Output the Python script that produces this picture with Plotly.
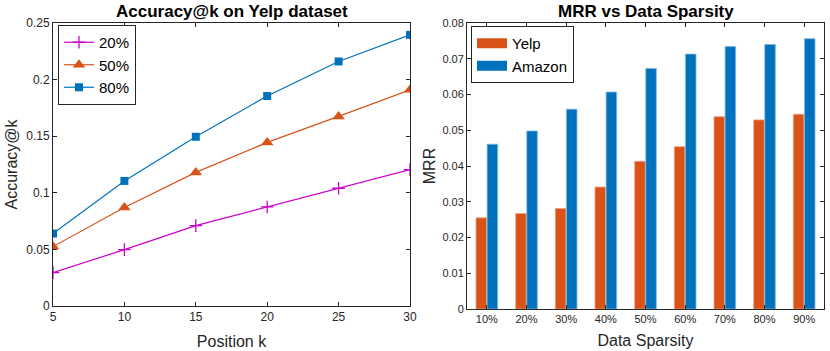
import plotly.graph_objects as go

# Left chart data
positions = [5, 10, 15, 20, 25, 30]
acc_20 = [0.0295, 0.0498, 0.071, 0.0875, 0.104, 0.1205]
acc_50 = [0.0525, 0.087, 0.118, 0.1445, 0.1675, 0.191]
acc_80 = [0.064, 0.1105, 0.1495, 0.1855, 0.216, 0.2395]

# Right chart data
sparsity = ["10%", "20%", "30%", "40%", "50%", "60%", "70%", "80%", "90%"]
mrr_yelp = [0.0255, 0.0267, 0.0281, 0.0341, 0.0413, 0.0454, 0.0538, 0.0529, 0.0545]
mrr_amazon = [0.0461, 0.0498, 0.0559, 0.0607, 0.0673, 0.0713, 0.0734, 0.0740, 0.0756]

BLUE = "#0072BD"
ORANGE = "#D95319"
MAGENTA = "#CC00CC"
AX = "#262626"
FONT = "Liberation Sans, Arial, Helvetica, sans-serif"

W, H = 830, 351

fig = go.Figure()

fig.add_trace(go.Scatter(x=positions, y=acc_20, name="20%", mode="lines+markers",
                         line=dict(color=MAGENTA, width=1.2),
                         marker=dict(symbol="cross-thin", size=9, line=dict(color=MAGENTA, width=1.3)),
                         xaxis="x", yaxis="y", legend="legend"))
fig.add_trace(go.Scatter(x=positions, y=acc_50, name="50%", mode="lines+markers",
                         line=dict(color=ORANGE, width=1.2),
                         marker=dict(symbol="triangle-up", size=11, color=ORANGE),
                         xaxis="x", yaxis="y", legend="legend"))
fig.add_trace(go.Scatter(x=positions, y=acc_80, name="80%", mode="lines+markers",
                         line=dict(color=BLUE, width=1.2),
                         marker=dict(symbol="square", size=8, color=BLUE),
                         xaxis="x", yaxis="y", legend="legend"))

fig.add_trace(go.Bar(x=sparsity, y=mrr_yelp, name="Yelp", showlegend=False,
                     marker=dict(color=ORANGE, line=dict(color="#F0A080", width=0.8)),
                     xaxis="x2", yaxis="y2"))
fig.add_trace(go.Bar(x=sparsity, y=mrr_amazon, name="Amazon", showlegend=False,
                     marker=dict(color=BLUE, line=dict(color="#80B8E0", width=0.8)),
                     xaxis="x2", yaxis="y2"))
# legend swatches for the bar series (wide rectangles like the original)
for nm, col in [("Yelp", ORANGE), ("Amazon", BLUE)]:
    fig.add_trace(go.Scatter(x=[None], y=[None], name=nm, mode="lines",
                             line=dict(color=col, width=16),
                             xaxis="x2", yaxis="y2", legend="legend2"))

def axis_common(size):
    return dict(showline=True, linecolor=AX, linewidth=1, mirror="ticks", automargin=False,
                ticks="inside", ticklen=4, tickcolor=AX, showgrid=False, zeroline=False,
                tickfont=dict(family=FONT, size=size, color=AX))

lx = [53 / W, 410 / W]
rx = [467 / W, 824 / W]
ly = [1 - 306 / H, 1 - 23 / H]
ry = [1 - 309 / H, 1 - 23 / H]

fig.update_layout(
    template="none",
    width=W, height=H,
    margin=dict(l=0, r=0, t=0, b=0, autoexpand=False),
    paper_bgcolor="white", plot_bgcolor="white",
    font=dict(family=FONT, color=AX),
    barmode="group", bargap=0.44, bargroupgap=0.05,
    showlegend=True,
    xaxis=dict(domain=lx, range=[5, 30], tickvals=positions, ticktext=[str(p) for p in positions],
               anchor="y", title=dict(text="Position k", font=dict(size=16, color=AX), standoff=12),
               **axis_common(12)),
    yaxis=dict(domain=ly, range=[0, 0.25], tickvals=[0, 0.05, 0.1, 0.15, 0.2, 0.25],
               ticktext=["0", "0.05", "0.1", "0.15", "0.2", "0.25"], anchor="x",
               title=dict(text="Accuracy@k", font=dict(size=16, color=AX), standoff=4),
               **axis_common(12)),
    xaxis2=dict(domain=rx, range=[-0.5, 8.5], anchor="y2", type="category",
                title=dict(text="Data Sparsity", font=dict(size=16, color=AX), standoff=10),
                **axis_common(11)),
    yaxis2=dict(domain=ry, range=[0, 0.08], anchor="x2",
                tickvals=[0, 0.01, 0.02, 0.03, 0.04, 0.05, 0.06, 0.07, 0.08],
                ticktext=["0", "0.01", "0.02", "0.03", "0.04", "0.05", "0.06", "0.07", "0.08"],
                title=dict(text="MRR", font=dict(size=16, color=AX), standoff=2),
                **axis_common(11)),
    legend=dict(x=58 / W, y=1 - 25 / H, xanchor="left", yanchor="top",
                bordercolor=AX, borderwidth=1, bgcolor="white",
                font=dict(family=FONT, size=15, color="black"),
                tracegroupgap=0, itemwidth=30),
    legend2=dict(x=471 / W, y=1 - 26 / H, xanchor="left", yanchor="top",
                 bordercolor=AX, borderwidth=1, bgcolor="white",
                 font=dict(family=FONT, size=15, color="black"),
                 tracegroupgap=0, itemwidth=30),
    annotations=[
        dict(text="<b>Accuracy@k on Yelp dataset</b>", x=(lx[0] + lx[1]) / 2, y=1 - 11 / H,
             xref="paper", yref="paper", showarrow=False, xanchor="center", yanchor="middle",
             font=dict(family=FONT, size=17, color="black")),
        dict(text="<b>MRR vs Data Sparsity</b>", x=(rx[0] + rx[1]) / 2, y=1 - 11 / H,
             xref="paper", yref="paper", showarrow=False, xanchor="center", yanchor="middle",
             font=dict(family=FONT, size=17, color="black")),
    ],
)

post = (
    "var s=document.createElement('style');"
    "s.textContent='html,body{margin:0!important;padding:0!important;overflow:hidden!important}';"
    "document.head.appendChild(s);"
    "var g=document.getElementsByClassName('plotly-graph-div')[0];"
    "g.style.position='fixed';g.style.left='0px';g.style.top='0px';"
)

fig.write_html("out.html", config={"displayModeBar": False}, post_script=post)
